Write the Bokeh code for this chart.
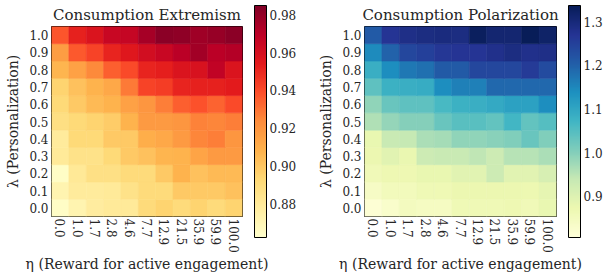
import math
import numpy as np
from bokeh.plotting import figure
from bokeh.layouts import row
from bokeh.models import (LinearColorMapper, ColumnDataSource, FixedTicker,
                          PrintfTickFormatter, ColorBar)
from bokeh.transform import transform
from bokeh.embed import file_html
from bokeh.resources import INLINE

# ---------------- data ----------------
eta_labels = ["0.0", "1.0", "1.7", "2.8", "4.6", "7.7", "12.9", "21.5", "35.9", "59.9", "100.0"]
lam_labels = ["0.0", "0.1", "0.2", "0.3", "0.4", "0.5", "0.6", "0.7", "0.8", "0.9", "1.0"]

# rows: lambda 0.0 -> 1.0 ; columns: eta labels
extremism = [
    [0.864, 0.872, 0.878, 0.880, 0.880, 0.891, 0.895, 0.891, 0.895, 0.891, 0.895],
    [0.872, 0.879, 0.879, 0.880, 0.886, 0.891, 0.891, 0.899, 0.899, 0.899, 0.902],
    [0.864, 0.881, 0.887, 0.887, 0.891, 0.891, 0.899, 0.908, 0.902, 0.905, 0.905],
    [0.880, 0.886, 0.886, 0.892, 0.899, 0.902, 0.907, 0.908, 0.914, 0.918, 0.918],
    [0.879, 0.892, 0.892, 0.899, 0.899, 0.910, 0.912, 0.918, 0.925, 0.927, 0.920],
    [0.888, 0.892, 0.895, 0.898, 0.908, 0.918, 0.918, 0.920, 0.926, 0.925, 0.927],
    [0.892, 0.899, 0.905, 0.908, 0.915, 0.920, 0.927, 0.935, 0.938, 0.934, 0.940],
    [0.895, 0.902, 0.908, 0.912, 0.928, 0.942, 0.944, 0.951, 0.952, 0.952, 0.954],
    [0.907, 0.915, 0.924, 0.935, 0.940, 0.951, 0.953, 0.958, 0.959, 0.968, 0.958],
    [0.917, 0.936, 0.942, 0.951, 0.956, 0.961, 0.965, 0.970, 0.976, 0.970, 0.972],
    [0.937, 0.952, 0.958, 0.965, 0.966, 0.975, 0.982, 0.981, 0.977, 0.979, 0.982],
]

polarization = [
    [0.815, 0.830, 0.850, 0.845, 0.845, 0.865, 0.865, 0.865, 0.870, 0.860, 0.880],
    [0.840, 0.855, 0.855, 0.865, 0.868, 0.875, 0.875, 0.875, 0.875, 0.872, 0.885],
    [0.860, 0.870, 0.870, 0.880, 0.880, 0.895, 0.895, 0.930, 0.895, 0.895, 0.910],
    [0.875, 0.895, 0.878, 0.930, 0.935, 0.935, 0.945, 0.930, 0.955, 0.955, 0.965],
    [0.880, 0.935, 0.940, 0.965, 0.970, 0.990, 0.990, 0.995, 1.005, 1.030, 1.005],
    [0.960, 0.985, 1.000, 1.000, 1.030, 1.045, 1.045, 1.035, 1.070, 1.035, 1.050],
    [0.990, 1.030, 1.040, 1.040, 1.065, 1.080, 1.085, 1.095, 1.110, 1.110, 1.140],
    [1.040, 1.080, 1.085, 1.090, 1.140, 1.160, 1.160, 1.190, 1.190, 1.190, 1.190],
    [1.085, 1.140, 1.170, 1.180, 1.210, 1.210, 1.240, 1.240, 1.240, 1.260, 1.235],
    [1.146, 1.200, 1.240, 1.250, 1.265, 1.270, 1.270, 1.280, 1.290, 1.280, 1.285],
    [1.210, 1.270, 1.285, 1.290, 1.295, 1.290, 1.330, 1.310, 1.310, 1.335, 1.320],
]

ext_range = (0.862, 0.985)
pol_range = (0.806, 1.337)
ext_ticks = [0.88, 0.90, 0.92, 0.94, 0.96, 0.98]
pol_ticks = [0.9, 1.0, 1.1, 1.2, 1.3]

x_label = "η (Reward for active engagement)"
y_label = "λ (Personalization)"

YLORRD9 = ["#ffffcc", "#ffeda0", "#fed976", "#feb24c", "#fd8d3c",
           "#fc4e2a", "#e31a1c", "#bd0026", "#800026"]
YLGNBU9 = ["#ffffd9", "#edf8b1", "#c7e9b4", "#7fcdbb", "#41b6c4",
           "#1d91c0", "#225ea8", "#253494", "#081d58"]

FONT = "DejaVu Serif"
TXT = "#262626"


def interp_palette(colors, n=256):
    rgb = np.array([[int(c[i:i + 2], 16) for i in (1, 3, 5)] for c in colors], float)
    pos = np.linspace(0, 1, len(colors))
    out = []
    for t in np.linspace(0, 1, n):
        r = np.interp(t, pos, rgb[:, 0])
        g = np.interp(t, pos, rgb[:, 1])
        b = np.interp(t, pos, rgb[:, 2])
        out.append("#%02x%02x%02x" % (int(round(r)), int(round(g)), int(round(b))))
    return out


def panel(title, values, colors, vrange, ticks, fmt, border_left, frame_w, border_right):
    lo, hi = vrange
    pal = interp_palette(colors)
    mapper = LinearColorMapper(palette=pal, low=lo, high=hi)

    xs, ys, vs = [], [], []
    for i, lam in enumerate(lam_labels):
        for j, eta in enumerate(eta_labels):
            xs.append(eta)
            ys.append(lam)
            vs.append(values[i][j])
    src = ColumnDataSource(dict(x=xs, y=ys, v=vs))

    p = figure(x_range=eta_labels, y_range=lam_labels,
               frame_width=frame_w, frame_height=190,
               min_border_left=border_left, min_border_right=border_right,
               min_border_top=26, min_border_bottom=0,
               output_backend="svg", toolbar_location=None, title=title)
    p.rect("x", "y", 1, 1, source=src, fill_color=transform("v", mapper),
           line_color=transform("v", mapper), line_width=0.6)

    p.title.text_font = FONT
    p.title.text_font_size = "15px"
    p.title.text_font_style = "normal"
    p.title.text_color = TXT
    p.title.align = "center"
    p.title.standoff = 5
    p.outline_line_color = "black"
    p.outline_line_width = 1
    p.outline_line_alpha = 1
    p.grid.grid_line_color = None
    for ax in (p.xaxis[0], p.yaxis[0]):
        ax.axis_line_color = None
        ax.major_tick_line_color = None
        ax.minor_tick_line_color = None
        ax.major_tick_out = 0
        ax.major_tick_in = 0
        ax.major_label_text_font = FONT
        ax.major_label_text_font_size = "12px"
        ax.major_label_text_color = TXT
        ax.axis_label_text_font = FONT
        ax.axis_label_text_font_size = "14px"
        ax.axis_label_text_font_style = "normal"
        ax.axis_label_text_color = TXT
    p.xaxis.major_label_orientation = -math.pi / 2
    p.xaxis.major_label_standoff = 2
    p.xaxis.axis_label_standoff = 0
    p.yaxis.major_label_standoff = 3
    p.yaxis.axis_label_standoff = 5
    p.xaxis.axis_label = x_label
    p.yaxis.axis_label = y_label

    # colour bar: 232 px tall, its bottom 21 px below the heatmap frame
    cb = ColorBar(color_mapper=mapper, orientation="vertical",
                  location=(frame_w + 12, -21), width=12, height=232,
                  padding=0, margin=0,
                  ticker=FixedTicker(ticks=ticks),
                  formatter=PrintfTickFormatter(format=fmt),
                  major_label_text_font=FONT, major_label_text_font_size="12px",
                  major_label_text_color=TXT, label_standoff=3,
                  major_tick_line_color=None, minor_tick_line_color=None,
                  bar_line_color="black", bar_line_width=1,
                  border_line_color=None, background_fill_alpha=0)
    p.add_layout(cb, "center")
    return p


pA = panel("Consumption Extremism", extremism, YLORRD9, ext_range, ext_ticks, "%.2f",
           51, 191, 58)
pB = panel("Consumption Polarization", polarization, YLGNBU9, pol_range, pol_ticks, "%.1f",
           64, 192, 49)

layout = row(pA, pB, spacing=0)

open("out.html", "w").write(file_html(layout, INLINE))
